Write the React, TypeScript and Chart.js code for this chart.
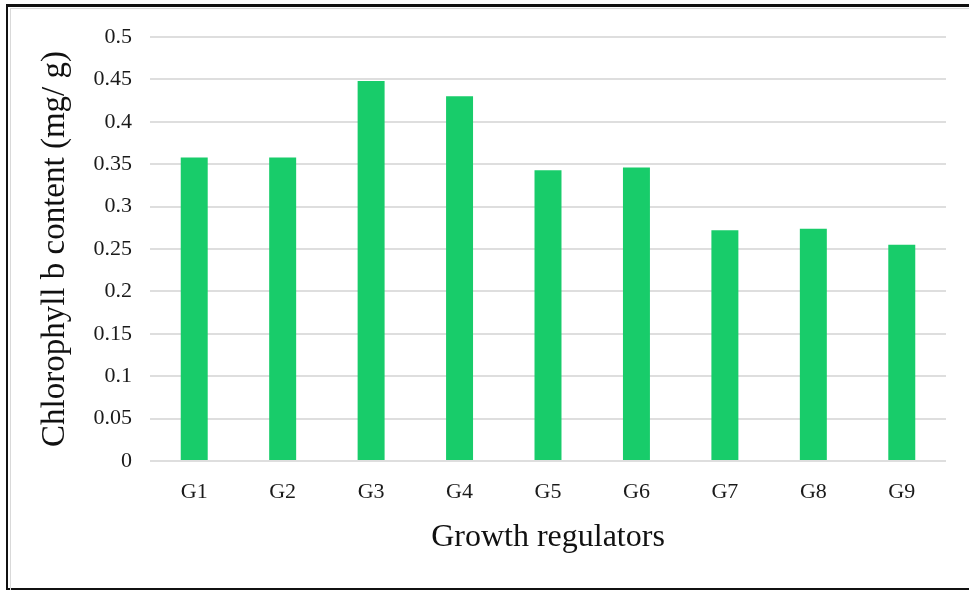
import React, { useEffect, useRef } from "react";
import { Chart, registerables } from "chart.js";

Chart.register(...registerables);

const categories = ["G1", "G2", "G3", "G4", "G5", "G6", "G7", "G8", "G9"];
const chlorophyllB = [0.358, 0.358, 0.448, 0.43, 0.343, 0.346, 0.272, 0.274, 0.255];
const yTicks = [0, 0.05, 0.1, 0.15, 0.2, 0.25, 0.3, 0.35, 0.4, 0.45, 0.5];
const yTitle = "Chlorophyll b content (mg/ g)";
const xTitle = "Growth regulators";

const FONT = "'Liberation Serif', 'Times New Roman', serif";

export default function App() {
  const ref = useRef<HTMLCanvasElement | null>(null);

  useEffect(() => {
    document.body.style.margin = "0";
    const canvas = ref.current;
    if (!canvas) return;
    const chart = new Chart(canvas, {
      type: "bar",
      data: {
        labels: categories,
        datasets: [
          {
            data: chlorophyllB,
            backgroundColor: "rgb(24,204,106)",
            borderWidth: 0,
            barPercentage: 0.305,
            categoryPercentage: 1,
          },
        ],
      },
      options: {
        animation: false,
        responsive: false,
        maintainAspectRatio: false,
        devicePixelRatio: 1,
        layout: { padding: { left: 0, top: 37, right: 23, bottom: 0 } },
        plugins: { legend: { display: false }, tooltip: { enabled: false } },
        scales: {
          x: {
            grid: { display: false, drawTicks: false },
            border: { display: false },
            ticks: {
              padding: 18,
              color: "#1a1a1a",
              font: { family: FONT, size: 22 },
              maxRotation: 0,
            },
            title: {
              display: true,
              text: xTitle,
              color: "#111",
              font: { family: FONT, size: 32, lineHeight: 1 },
              padding: { top: 0, bottom: 36 },
            },
            afterFit: (s: any) => {
              s.height = 129;
            },
          },
          y: {
            min: 0,
            max: 0.5,
            afterBuildTicks: (s: any) => {
              s.ticks = yTicks.map((v) => ({ value: v }));
            },
            ticks: {
              padding: 18,
              color: "#1a1a1a",
              font: { family: FONT, size: 22 },
              callback: (v: any) => String(Number(v)),
            },
            grid: { color: "#dedede", lineWidth: 2, drawTicks: false },
            border: { display: false },
            title: {
              display: true,
              text: yTitle,
              color: "#111",
              font: { family: FONT, size: 33, lineHeight: 1 },
              padding: { top: 39, bottom: 0 },
            },
            afterFit: (s: any) => {
              s.width = 150;
            },
          },
        },
      },
    });
    return () => chart.destroy();
  }, []);

  return (
    <div style={{ position: "relative", width: 969, height: 590, overflow: "hidden", background: "#fff" }}>
      <div
        style={{
          position: "absolute",
          left: 6,
          top: 4,
          width: 1000,
          height: 581,
          borderLeft: "2px solid #111",
          borderTop: "3px solid #111",
          borderBottom: "3px solid #111",
        }}
      />
      <div
        style={{
          position: "absolute",
          left: 10,
          top: 8,
          width: 1000,
          height: 600,
          borderLeft: "1px solid #d9d9d9",
          borderTop: "1px solid #d9d9d9",
        }}
      />
      <canvas ref={ref} width={969} height={590} style={{ position: "absolute", left: 0, top: 0, width: 969, height: 590 }} />
    </div>
  );
}
